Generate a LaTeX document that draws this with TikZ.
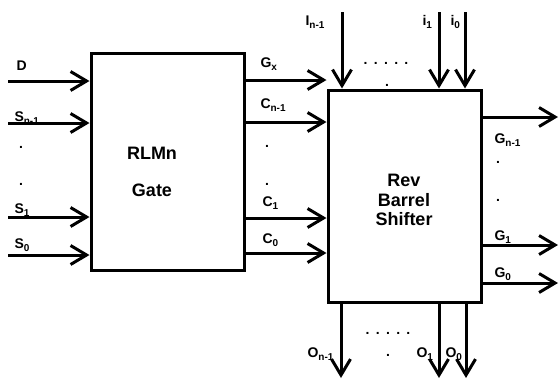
\documentclass[tikz,border=0pt]{standalone}
\usepackage{fontspec}
\setmainfont{Liberation Sans}
\usetikzlibrary{arrows.meta}
\newcommand{\sbs}[1]{\raisebox{-3.5pt}{\fontsize{10}{10}\selectfont #1}}
\newcommand{\fivedots}{.\hspace{6.3pt}.\hspace{6.3pt}.\hspace{6.3pt}.\hspace{6.3pt}.}
\begin{document}
\begin{tikzpicture}[x=1pt,y=-1pt,line width=3pt,
  sig/.style={-{Straight Barb[length=16pt,width=19pt]}},
  blk/.style={draw,inner sep=0pt},
  lbl/.style={font=\bfseries\fontsize{14}{16}\selectfont,inner sep=0pt},
  ttl/.style={font=\bfseries\fontsize{18}{19.5}\selectfont,align=center,inner sep=0pt}]
\useasboundingbox (0,0) rectangle (560,381);
% blocks
\node[blk,minimum width=153pt,minimum height=217pt] (g) at (167.5,161.5) {};
\node[blk,minimum width=153pt,minimum height=212pt] (s) at (404.5,196) {};
\node[ttl,font=\bfseries\fontsize{18}{37.5}\selectfont] (gt) at (152,172) {RLMn\\Gate};
\node[ttl] (st) at (404,200) {Rev\\Barrel\\Shifter};
% left inputs
\coordinate (d) at (8,81);
\coordinate (sn) at (8,123);
\coordinate (s1) at (8,217);
\coordinate (s0) at (8,255);
\draw[sig] (d) -- (g.west |- d);
\draw[sig] (sn) -- (g.west |- sn);
\draw[sig] (s1) -- (g.west |- s1);
\draw[sig] (s0) -- (g.west |- s0);
\node[lbl,anchor=base west] (ld) at (15,70) {D};
\node[lbl,anchor=base west] (lsn) at (13,121) {S\sbs{n-1}};
\node[lbl,anchor=base] (ldl1) at (21,148) {.};
\node[lbl,anchor=base] (ldl2) at (21,185) {.};
\node[lbl,anchor=base west] (ls1) at (13,213) {S\sbs{1}};
\node[lbl,anchor=base west] (ls0) at (13,248) {S\sbs{0}};
% middle connections
\coordinate (mgx) at (0,80);
\coordinate (mcn) at (0,122);
\coordinate (mc1) at (0,218);
\coordinate (mc0) at (0,253);
\draw[sig] (g.east |- mgx) -- (s.west |- mgx);
\draw[sig] (g.east |- mcn) -- (s.west |- mcn);
\draw[sig] (g.east |- mc1) -- (s.west |- mc1);
\draw[sig] (g.east |- mc0) -- (s.west |- mc0);
\node[lbl,anchor=base west] (lgx) at (259,67) {G\sbs{x}};
\node[lbl,anchor=base west] (lcn) at (259,108) {C\sbs{n-1}};
\node[lbl,anchor=base] (ldm1) at (267,147) {.};
\node[lbl,anchor=base] (ldm2) at (267,185) {.};
\node[lbl,anchor=base west] (lc1) at (261,206) {C\sbs{1}};
\node[lbl,anchor=base west] (lc0) at (261,243) {C\sbs{0}};
% top inputs
\coordinate (in) at (342,12);
\coordinate (i1) at (439,12);
\coordinate (i0) at (465,12);
\draw[sig] (in) -- (s.north -| in);
\draw[sig] (i1) -- (s.north -| i1);
\draw[sig] (i0) -- (s.north -| i0);
\node[lbl,anchor=base west] (lin) at (304,25) {I\sbs{n-1}};
\node[lbl,anchor=base west] (li1) at (421,25) {i\sbs{1}};
\node[lbl,anchor=base west] (li0) at (449,25) {i\sbs{0}};
\node[lbl,anchor=base] (ldt) at (386,64) {\fivedots};
\node[lbl,anchor=base] (ldt2) at (387,86) {.};
% bottom outputs
\coordinate (on) at (341,378);
\coordinate (o1) at (439,378);
\coordinate (o0) at (466,378);
\draw[sig] (s.south -| on) -- (on);
\draw[sig] (s.south -| o1) -- (o1);
\draw[sig] (s.south -| o0) -- (o0);
\node[lbl,anchor=base west] (lon) at (306,357) {O\sbs{n-1}};
\node[lbl,anchor=base west] (lo1) at (415,357) {O\sbs{1}};
\node[lbl,anchor=base west] (lo0) at (444,357) {O\sbs{0}};
\node[lbl,anchor=base] (ldb) at (388,334) {\fivedots};
\node[lbl,anchor=base] (ldb2) at (388,356) {.};
% right outputs
\coordinate (gn) at (558,117);
\coordinate (g1) at (558,245);
\coordinate (g0) at (558,283);
\draw[sig] (s.east |- gn) -- (gn);
\draw[sig] (s.east |- g1) -- (g1);
\draw[sig] (s.east |- g0) -- (g0);
\node[lbl,anchor=base west] (lgn) at (493,143) {G\sbs{n-1}};
\node[lbl,anchor=base] (ldr1) at (498,163) {.};
\node[lbl,anchor=base] (ldr2) at (498,201) {.};
\node[lbl,anchor=base west] (lg1) at (493,240) {G\sbs{1}};
\node[lbl,anchor=base west] (lg0) at (493,277) {G\sbs{0}};
\end{tikzpicture}
\end{document}
